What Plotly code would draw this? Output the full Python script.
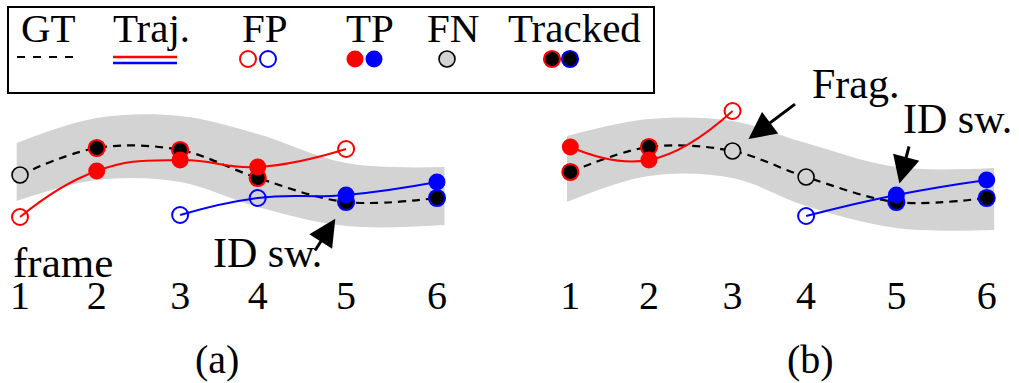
import plotly.graph_objects as go

W, H = 1019, 383
FONT = "Liberation Serif"
RED, BLUE, GRAY = "#ff0000", "#0000ff", "#d3d3d3"

# ---------------------------------------------------------------- data
frame_labels = ["1", "2", "3", "4", "5", "6"]
# time stamp of every frame along the horizontal axis of each panel
t_a = [1.0, 1.92, 2.92, 3.85, 4.91, 6.0]
t_b = [1.04, 1.98, 2.98, 3.86, 4.94, 6.02]

# panel (a): ground truth, tolerance band and two tracker trajectories
gt_a = [6.5, 9.2, 9.0, 6.2, 3.8, 4.2]
gt_state_a = ["FN", "red", "red", "red", "blue", "blue"]
band_hi_a = [9.7, 12.2, 12.4, 10.6, 7.7, 7.3]
band_lo_a = [3.9, 6.0, 5.8, 3.3, 1.4, 1.5]
red_idx_a = [0, 1, 2, 3, 4]
red_a = [2.3, 6.9, 8.0, 7.3, 9.1]
red_kind_a = ["FP", "TP", "TP", "TP", "FP"]
blue_idx_a = [2, 3, 4, 5]
blue_a = [2.5, 4.2, 4.5, 5.8]
blue_kind_a = ["FP", "FP", "TP", "TP"]

# panel (b)
gt_b = [6.8, 9.3, 8.9, 6.3, 3.8, 4.2]
gt_state_b = ["red", "red", "FN", "FN", "blue", "blue"]
band_hi_b = [10.4, 12.1, 11.9, 9.7, 7.3, 7.2]
band_lo_b = [3.8, 6.4, 6.2, 3.4, 1.2, 1.0]
red_idx_b = [0, 1, 2]
red_b = [9.3, 8.0, 12.9]
red_kind_b = ["TP", "TP", "FP"]
blue_idx_b = [3, 4, 5]
blue_b = [2.4, 4.5, 6.0]
blue_kind_b = ["FP", "TP", "TP"]

legend_labels = ["GT", "Traj.", "FP", "TP", "FN", "Tracked"]
panel_labels = ["(a)", "(b)"]

# ---------------------------------------------------------------- helpers
COLORS = {"red": RED, "blue": BLUE}


def px_x(px):
    return px / W


def px_y(py):
    return 1 - py / H


def marker_style(kind, color):
    if kind == "TP":
        return dict(size=17, color=color, line=dict(width=0))
    if kind == "FP":
        return dict(size=16, color="rgba(0,0,0,0)", line=dict(width=2, color=color))
    if kind == "FN":
        return dict(size=16, color=GRAY, line=dict(width=1.6, color="black"))
    # tracked ground truth: black disc outlined in the tracker colour
    return dict(size=16, color="black", line=dict(width=2.2, color=color))


fig = go.Figure()


def add_panel(t, gt, gt_state, hi, lo, tracks, xa, ya):
    band_t = [t[0] - 0.04] + t[1:-1] + [t[-1] + 0.09]
    fig.add_trace(go.Scatter(x=band_t, y=lo, mode="lines", line=dict(width=0, shape="spline"),
                             xaxis=xa, yaxis=ya, hoverinfo="skip"))
    fig.add_trace(go.Scatter(x=band_t, y=hi, mode="lines", line=dict(width=0, shape="spline"),
                             fill="tonexty", fillcolor=GRAY, xaxis=xa, yaxis=ya, hoverinfo="skip"))
    fig.add_trace(go.Scatter(x=t, y=gt, mode="lines",
                             line=dict(color="black", width=2.2, dash="8px,6px", shape="spline"),
                             xaxis=xa, yaxis=ya, hoverinfo="skip"))
    for idx, vals, kinds, cname in tracks:
        fig.add_trace(go.Scatter(x=[t[i] for i in idx], y=vals, mode="lines",
                                 line=dict(color=COLORS[cname], width=2, shape="spline",
                                           smoothing=1.3),
                                 xaxis=xa, yaxis=ya, hoverinfo="skip"))
    for ti, g, s in zip(t, gt, gt_state):
        st = marker_style("FN", None) if s == "FN" else marker_style("TR", COLORS[s])
        fig.add_trace(go.Scatter(x=[ti], y=[g], mode="markers", marker=st,
                                 xaxis=xa, yaxis=ya, hoverinfo="skip"))
    for idx, vals, kinds, cname in tracks:
        for i, v, k in zip(idx, vals, kinds):
            fig.add_trace(go.Scatter(x=[t[i]], y=[v], mode="markers",
                                     marker=marker_style(k, COLORS[cname]),
                                     xaxis=xa, yaxis=ya, hoverinfo="skip"))


add_panel(t_a, gt_a, gt_state_a, band_hi_a, band_lo_a,
          [(red_idx_a, red_a, red_kind_a, "red"), (blue_idx_a, blue_a, blue_kind_a, "blue")],
          "x", "y")
add_panel(t_b, gt_b, gt_state_b, band_hi_b, band_lo_b,
          [(red_idx_b, red_b, red_kind_b, "red"), (blue_idx_b, blue_b, blue_kind_b, "blue")],
          "x2", "y2")

# ---------------------------------------------------------------- legend box
LEG_Y = 59
fig.add_trace(go.Scatter(x=[17, 76], y=[57, 57], mode="lines",
                         line=dict(color="black", width=2.2, dash="8px,8px"),
                         xaxis="x3", yaxis="y3", hoverinfo="skip"))
fig.add_trace(go.Scatter(x=[113, 177], y=[57, 57], mode="lines", line=dict(color=RED, width=2.5),
                         xaxis="x3", yaxis="y3", hoverinfo="skip"))
fig.add_trace(go.Scatter(x=[113, 177], y=[63, 63], mode="lines", line=dict(color=BLUE, width=2.5),
                         xaxis="x3", yaxis="y3", hoverinfo="skip"))
legend_keys = [
    (248, "FP", RED), (268, "FP", BLUE),
    (355, "TP", RED), (374, "TP", BLUE),
    (447, "FN", None),
    (552, "TR", RED), (570, "TR", BLUE),
]
for kx, kind, col in legend_keys:
    fig.add_trace(go.Scatter(x=[kx], y=[LEG_Y], mode="markers", marker=marker_style(kind, col),
                             xaxis="x3", yaxis="y3", hoverinfo="skip"))

shapes = [dict(type="rect", xref="paper", yref="paper",
               x0=px_x(8), x1=px_x(654), y0=px_y(93), y1=px_y(7),
               line=dict(color="black", width=2))]


def text_ann(txt, px, baseline, size, xanchor="left"):
    bottom = baseline + 0.216 * size + 2
    return dict(text=txt, x=px_x(px), y=px_y(bottom), xref="paper", yref="paper",
                xanchor=xanchor, yanchor="bottom", showarrow=False,
                font=dict(family=FONT, size=size, color="black"))


annotations = []
for lab, cx in zip(legend_labels, [48.5, 151.5, 264.5, 370, 452.5, 574.5]):
    annotations.append(text_ann(lab, cx, 42, 41, "center"))

annotations.append(text_ann("frame", 11, 277, 43))
annotations.append(text_ann("ID sw.", 211, 267, 42))
annotations.append(text_ann("Frag.", 810, 98, 42))
annotations.append(text_ann("ID sw.", 901, 133, 42))
annotations.append(text_ann(panel_labels[0], 217, 373, 40, "center"))
annotations.append(text_ann(panel_labels[1], 810, 373, 40, "center"))


def arrow(x, y, xr, yr, ax, ay, standoff):
    return dict(x=x, y=y, xref=xr, yref=yr, ax=ax, ay=ay, text="", showarrow=True,
                arrowhead=2, arrowsize=1.8, arrowwidth=3, arrowcolor="black",
                standoff=standoff)


annotations.append(arrow(t_a[4], gt_a[4], "x", "y", -32, 50, 20))
annotations.append(arrow(t_b[2], gt_b[2], "x2", "y2", 64, -48, 20))
annotations.append(arrow(t_b[4], blue_b[1], "x2", "y2", 13, -50, 12))

AX_POS = (H - 268) / H
common_x = dict(anchor="free", position=AX_POS, showgrid=False, zeroline=False,
                showline=False, ticks="", ticktext=frame_labels,
                tickfont=dict(family=FONT, size=40, color="black"), fixedrange=True)
hidden_y = dict(visible=False, range=[-14.3, 24.0], domain=[0, 1], fixedrange=True)

fig.update_layout(
    width=W, height=H, autosize=False,
    margin=dict(l=0, r=0, t=0, b=0, pad=0),
    paper_bgcolor="white", plot_bgcolor="rgba(0,0,0,0)",
    showlegend=False,
    xaxis=dict(domain=[0, 0.5], range=[1 - 20 / 83.4, 1 + 489.5 / 83.4],
               tickvals=t_a, **common_x),
    xaxis2=dict(domain=[0.5, 1], range=[1 - 57.5 / 83.6, 1 + 452 / 83.6],
                tickvals=t_b, **common_x),
    xaxis3=dict(domain=[0, 1], range=[0, W], visible=False, anchor="y3", fixedrange=True),
    yaxis=dict(anchor="x", **hidden_y),
    yaxis2=dict(anchor="x2", **hidden_y),
    yaxis3=dict(domain=[0, 1], range=[H, 0], visible=False, anchor="x3", fixedrange=True),
    shapes=shapes,
    annotations=annotations,
)

fig.write_html("out.html")
